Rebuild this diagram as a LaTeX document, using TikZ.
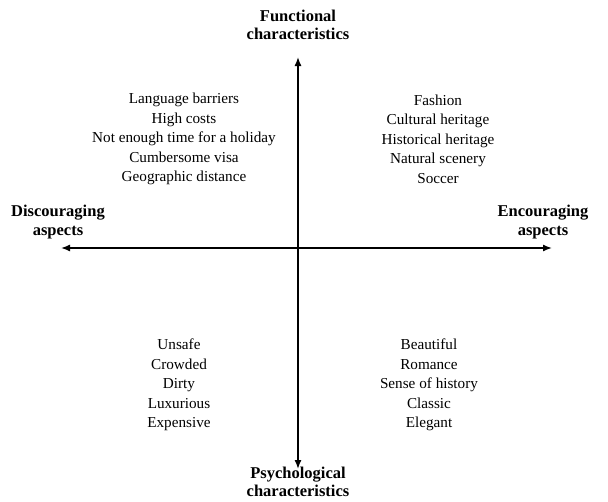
\documentclass[tikz,border=0pt]{standalone}
\usepackage{fontspec}
\setmainfont{Liberation Serif}
\usetikzlibrary{arrows.meta}
\tikzset{
  axis/.style={line width=1.4pt, -{Latex[length=9pt,width=7pt]}},
  item/.style={align=center, inner sep=0pt, font=\fontsize{15.2}{19.4}\selectfont},
  pole/.style={align=center, inner sep=0pt, font=\bfseries\fontsize{16.5}{18.5}\selectfont}
}
\begin{document}
\begin{tikzpicture}[x=1pt, y=-1pt]
  \useasboundingbox (0,0) rectangle (608,501);
  % axis ends
  \coordinate (c) at (298,248);
  \coordinate (top) at (298,57);
  \coordinate (bot) at (298,469);
  \coordinate (lft) at (61,248);
  \coordinate (rgt) at (552,248);
  \draw[axis] (c) -- (top);
  \draw[axis] (c) -- (bot);
  \draw[axis] (c) -- (lft);
  \draw[axis] (c) -- (rgt);
  % pole labels
  \node[pole] (fun) at (298,25) {Functional\\characteristics};
  \node[pole] (psy) at (298,482) {Psychological\\characteristics};
  \node[pole] (dis) at (58,222) {Discouraging\\aspects};
  \node[pole] (enc) at (543,222) {Encouraging\\aspects};
  % quadrant contents
  \node[item] (q1) at (184,139) {Language barriers\\High costs\\Not enough time for a holiday\\Cumbersome visa\\Geographic distance};
  \node[item] (q2) at (438,139) {Fashion\\Cultural heritage\\Historical heritage\\Natural scenery\\Soccer};
  \node[item] (q3) at (179,385) {Unsafe\\Crowded\\Dirty\\Luxurious\\Expensive};
  \node[item] (q4) at (429,385) {Beautiful\\Romance\\Sense of history\\Classic\\Elegant};
\end{tikzpicture}
\end{document}
